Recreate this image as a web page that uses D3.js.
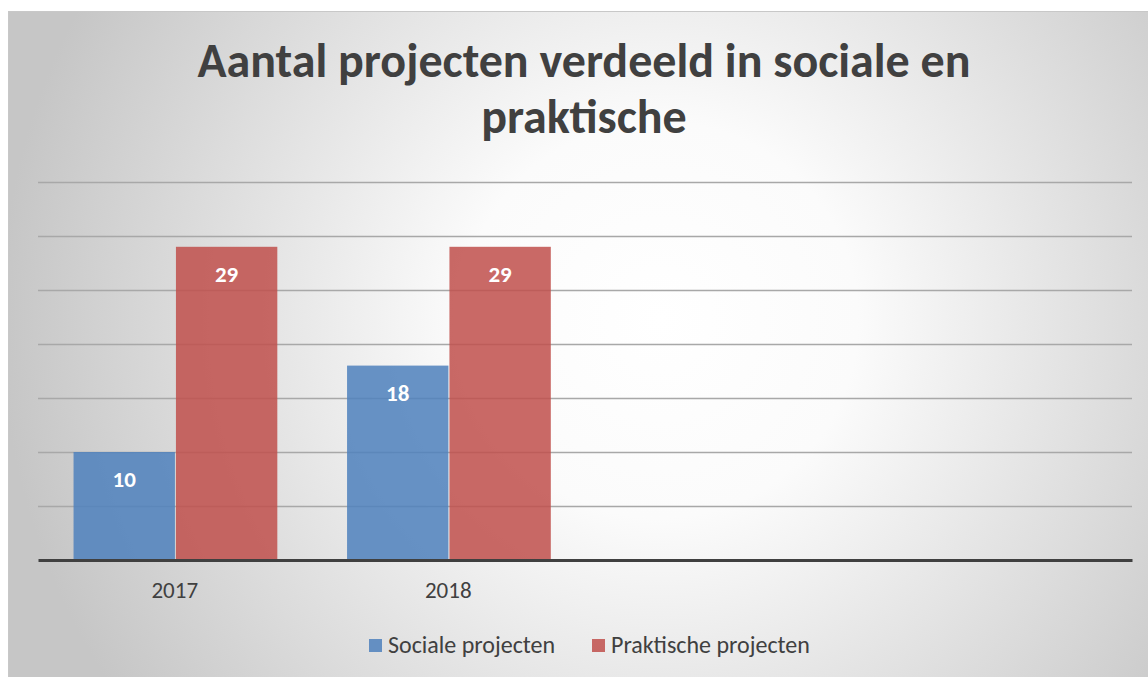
<!DOCTYPE html>
<html>
<head>
<meta charset="utf-8">
<script src="https://cdn.jsdelivr.net/npm/d3@7"></script>
<style>
  body { margin: 0; background: #ffffff; }
  svg { display: block; }
</style>
</head>
<body>
<div id="chart"></div>
<script>
var categories = ["2017", "2018"];
var emptySlots = ["", " "];
var seriesNames = ["Sociale projecten", "Praktische projecten"];
var sociale = [10, 18];
var praktische = [29, 29];
var yTicks = [0, 5, 10, 15, 20, 25, 30, 35];
var titleLines = ["Aantal projecten verdeeld in sociale en", "praktische"];

function init(){
    var W = 1148, H = 677;
    var colors = ["#4f81bd", "#c0504d"];
    var font = "Carlito, 'Open Sans', 'Liberation Sans', sans-serif";

    var svg = d3.select("#chart").append("svg")
        .attr("width", W).attr("height", H);

    // background gradient
    var defs = svg.append("defs");
    var grad = defs.append("radialGradient")
        .attr("id", "bg")
        .attr("gradientUnits", "userSpaceOnUse")
        .attr("cx", 660).attr("cy", 320).attr("r", 660);
    grad.append("stop").attr("offset", "0%").attr("stop-color", "#ffffff");
    grad.append("stop").attr("offset", "30%").attr("stop-color", "#fbfbfb");
    grad.append("stop").attr("offset", "100%").attr("stop-color", "#c6c6c6");

    svg.append("rect")
        .attr("x", 8.5).attr("y", 11.5)
        .attr("width", W).attr("height", H)
        .attr("fill", "url(#bg)")
        .attr("stroke", "#c8c8c8").attr("stroke-width", 1);

    // title
    svg.append("g").selectAll("text")
        .data(titleLines)
        .enter().append("text")
        .attr("x", 584)
        .attr("y", function(d, i){ return 77 + i * 56; })
        .attr("text-anchor", "middle")
        .attr("font-family", font)
        .attr("font-weight", "bold")
        .attr("font-size", "48px")
        .attr("fill", "#404040")
        .text(function(d){ return d; });

    var slots = categories.concat(emptySlots);

    var xScale = d3.scaleBand()
        .domain(slots)
        .range([38, 1132]);

    var bw = xScale.bandwidth();
    var xSub = d3.scaleBand()
        .domain(seriesNames)
        .range([bw * 0.13, bw * 0.875])
        .paddingInner(0.01);

    var yScale = d3.scaleLinear()
        .domain([0, 35])
        .range([560, 182]);

    // gridlines
    svg.append("g")
        .attr("transform", "translate(38,0)")
        .call(d3.axisLeft(yScale).tickValues(yTicks.slice(1)).tickSize(-(1132 - 38)).tickFormat(""))
        .call(function(g){
            g.select(".domain").remove();
            g.selectAll("line").attr("stroke", "#a8a8a8").attr("stroke-width", 1.5);
        });

    var data = categories.map(function(c, i){
        return { cat: c, values: [sociale[i], praktische[i]] };
    });

    var groups = svg.append("g").selectAll("g")
        .data(data)
        .enter().append("g")
        .attr("transform", function(d){ return "translate(" + xScale(d.cat) + ",0)"; });

    groups.selectAll("rect")
        .data(function(d){ return d.values; })
        .enter().append("rect")
        .attr("x", function(d, i){ return xSub(seriesNames[i]); })
        .attr("y", function(d){ return yScale(d); })
        .attr("width", xSub.bandwidth())
        .attr("height", function(d){ return yScale(0) - yScale(d); })
        .attr("fill", function(d, i){ return colors[i]; })
        .attr("fill-opacity", 0.86);

    groups.selectAll("text")
        .data(function(d){ return d.values; })
        .enter().append("text")
        .attr("x", function(d, i){ return xSub(seriesNames[i]) + xSub.bandwidth() / 2; })
        .attr("y", function(d){ return yScale(d) + 35; })
        .attr("text-anchor", "middle")
        .attr("font-family", font)
        .attr("font-weight", "bold")
        .attr("font-size", "23px")
        .attr("fill", "#ffffff")
        .text(function(d){ return d; });

    // baseline
    var xAxis = svg.append("g")
        .attr("transform", "translate(0," + yScale(0) + ")")
        .call(d3.axisBottom(xScale).tickSize(0).tickPadding(22)
            .tickFormat(function(d){ return categories.indexOf(d) >= 0 ? d : ""; }));
    xAxis.select(".domain").attr("stroke", "#404040").attr("stroke-width", 3);
    xAxis.selectAll("text")
        .attr("font-family", font)
        .attr("font-size", "23px")
        .attr("fill", "#404040");

    // legend
    var legendX = [369, 592];
    var legend = svg.append("g").selectAll("g")
        .data(seriesNames)
        .enter().append("g")
        .attr("transform", function(d, i){ return "translate(" + legendX[i] + ",639)"; });
    legend.append("rect")
        .attr("width", 13).attr("height", 13)
        .attr("fill", function(d, i){ return colors[i]; })
        .attr("fill-opacity", 0.86);
    legend.append("text")
        .attr("x", 19).attr("y", 14)
        .attr("font-family", font)
        .attr("font-size", "24px")
        .attr("fill", "#404040")
        .text(function(d){ return d; });
}
window.onload = init;
</script>
</body>
</html>
